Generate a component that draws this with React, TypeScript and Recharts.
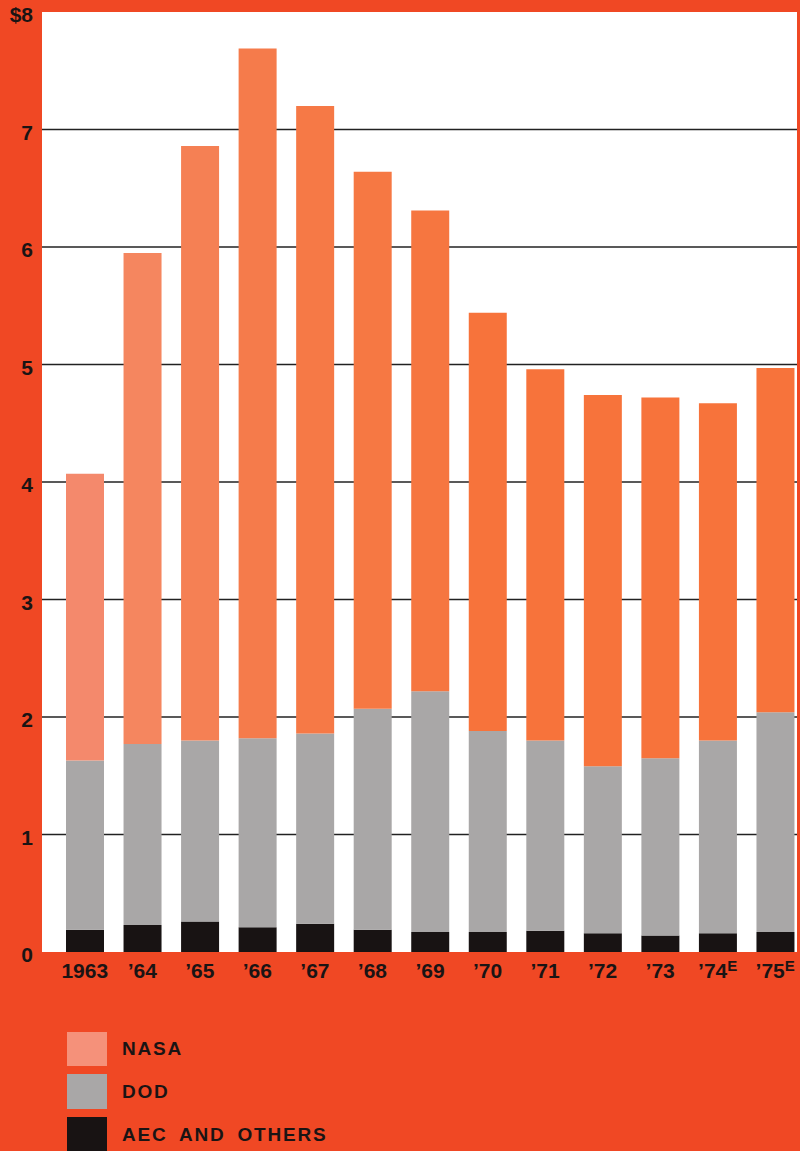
import { BarChart, Bar, XAxis, YAxis, CartesianGrid, Cell, Legend } from "recharts";

// billions of dollars
const years = ["1963", "’64", "’65", "’66", "’67", "’68", "’69", "’70", "’71", "’72", "’73", "’74", "’75"];
const estimatedYears = ["’74", "’75"];
const aec = [0.19, 0.23, 0.26, 0.21, 0.24, 0.19, 0.17, 0.17, 0.18, 0.16, 0.14, 0.16, 0.17];
const dod = [1.44, 1.54, 1.54, 1.61, 1.62, 1.88, 2.05, 1.71, 1.62, 1.42, 1.51, 1.64, 1.87];
const nasa = [2.44, 4.18, 5.06, 5.87, 5.34, 4.57, 4.09, 3.56, 3.16, 3.16, 3.07, 2.87, 2.93];
const yTicks = [0, 1, 2, 3, 4, 5, 6, 7, 8];
const gridLevels = [1, 2, 3, 4, 5, 6, 7];

const data = years.map((year, i) => ({ year, aec: aec[i], dod: dod[i], nasa: nasa[i] }));

// the print's orange drifts from salmon to deeper orange across the years
const nasaShades = [
  "#f4896c", "#f5865f", "#f58054", "#f57b4b", "#f67946", "#f67843", "#f67640",
  "#f7733b", "#f7733b", "#f7733b", "#f7733b", "#f7733b", "#f7733b",
];

const RED = "#f04824";
const GRAY = "#a9a7a7";
const BLACK = "#181313";
const FONT = "'Liberation Sans', Arial, Helvetica, sans-serif";

const YTick = ({ x, y, payload }: any) => (
  <text x={x - 1} y={y} dy={10} textAnchor="end" fontFamily={FONT} fontWeight={700} fontSize={21} fill="#1a1414">
    {payload.value === 8 ? "$8" : payload.value}
  </text>
);

const XTick = ({ x, y, payload }: any) => {
  const est = estimatedYears.includes(payload.value);
  return (
    <text x={x} y={y + 18} textAnchor="middle" fontFamily={FONT} fontWeight={700} fontSize={21} fill="#1a1414">
      {payload.value}
      {est && (
        <tspan fontSize={15} dy={-7}>
          E
        </tspan>
      )}
    </text>
  );
};

const legendItems = [
  { label: "NASA", color: "#f5917a", h: 34 },
  { label: "DOD", color: GRAY, h: 35 },
  { label: "AEC AND OTHERS", color: BLACK, h: 36 },
];

const LegendBox = () => (
  <div style={{ display: "flex", flexDirection: "column", gap: 8 }}>
    {legendItems.map((it) => (
      <div key={it.label} style={{ display: "flex", alignItems: "center" }}>
        <div style={{ width: 40, height: it.h, background: it.color }} />
        <span
          style={{
            marginLeft: 15,
            fontFamily: FONT,
            fontWeight: 700,
            fontSize: 19,
            letterSpacing: 1.8,
            wordSpacing: 5,
            color: "#1a1414",
          }}
        >
          {it.label}
        </span>
      </div>
    ))}
  </div>
);

export default function App() {
  return (
    <div style={{ width: 800, height: 1151, background: RED, overflow: "hidden" }}>
      <style>{`body{margin:0}`}</style>
      <BarChart
        width={800}
        height={1151}
        data={data}
        margin={{ top: 12, right: 3, left: 0, bottom: 159 }}
      >
        <CartesianGrid
          vertical={false}
          horizontalValues={gridLevels}
          stroke="#222"
          strokeWidth={1.5}
          fill="#ffffff"
          fillOpacity={1}
        />
        <XAxis
          dataKey="year"
          axisLine={false}
          tickLine={false}
          interval={0}
          height={40}
          padding={{ left: 14, right: -7 }}
          tick={<XTick />}
        />
        <YAxis
          type="number"
          domain={[0, 8]}
          ticks={yTicks}
          axisLine={false}
          tickLine={false}
          width={42}
          tick={<YTick />}
        />
        <Legend
          layout="vertical"
          align="center"
          verticalAlign="middle"
          content={<LegendBox />}
          wrapperStyle={{ left: 67, top: 1032, width: 300 }}
        />
        <Bar dataKey="aec" name="AEC and others" stackId="a" fill={BLACK} barSize={38} isAnimationActive={false} />
        <Bar dataKey="dod" name="DOD" stackId="a" fill={GRAY} barSize={38} isAnimationActive={false} />
        <Bar dataKey="nasa" name="NASA" stackId="a" fill={nasaShades[0]} barSize={38} isAnimationActive={false}>
          {data.map((d, i) => (
            <Cell key={d.year} fill={nasaShades[i]} />
          ))}
        </Bar>
      </BarChart>
    </div>
  );
}
